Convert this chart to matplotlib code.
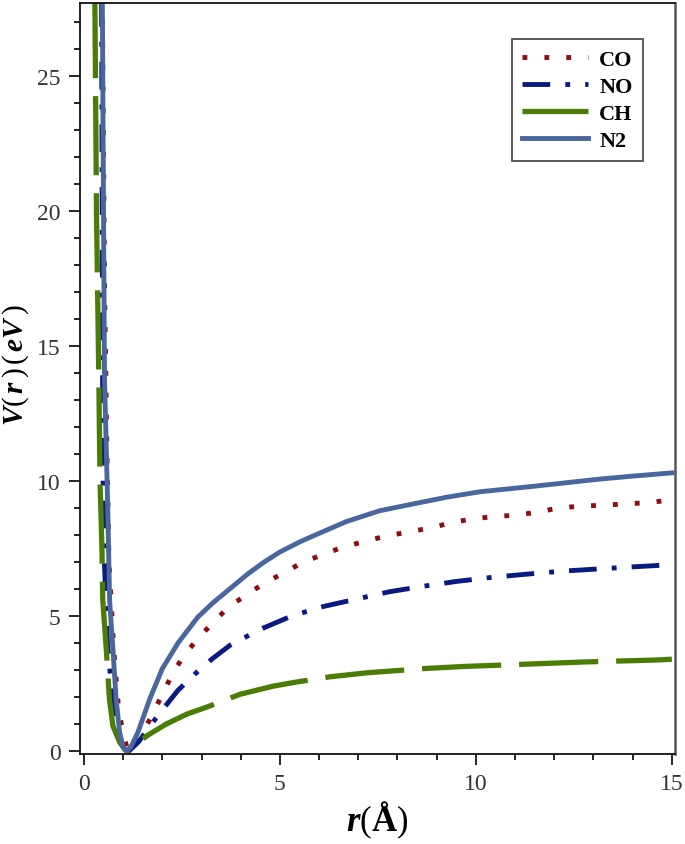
import matplotlib
matplotlib.use("Agg")
import matplotlib.pyplot as plt
from matplotlib.ticker import MultipleLocator

# ---- data ----
co_r = [0.455, 0.47, 0.53, 0.58, 0.64, 0.76, 0.88, 1.00, 1.13, 1.30, 1.45, 1.73, 1.98, 2.24, 2.53, 2.90,
        3.30, 3.67, 4.15, 4.65, 5.10, 5.60, 6.60, 7.70, 8.24, 8.83, 9.34, 9.90, 10.40, 11.05, 11.60,
        12.10, 12.70, 13.20, 13.80, 14.40, 15.00]
co_v = [30.0, 27.7, 16.9, 11.8, 7.0, 3.8, 1.63, 0.6, 0.0, 0.22, 0.56, 1.3, 2.04, 2.8, 3.5, 4.15,
        4.77, 5.3, 5.8, 6.25, 6.6, 7.0, 7.55, 7.96, 8.1, 8.26, 8.44, 8.6, 8.67, 8.74, 8.85,
        9.0, 9.07, 9.1, 9.15, 9.2, 9.3]

no_r = [0.44, 0.45, 0.47, 0.48, 0.51, 0.60, 0.75, 0.90, 1.05, 1.15, 1.40, 1.67, 2.06, 2.40, 2.83,
        3.26, 3.73, 4.23, 4.57, 5.30, 6.10, 6.96, 7.80, 8.65, 9.50, 10.40, 11.30, 12.20, 13.20,
        14.00, 15.00]
no_v = [30.0, 27.7, 18.0, 11.2, 7.5, 4.0, 1.6, 0.5, 0.05, 0.0, 0.35, 0.9, 1.63, 2.25, 2.85,
        3.4, 3.92, 4.3, 4.55, 5.0, 5.35, 5.63, 5.9, 6.1, 6.28, 6.43, 6.55, 6.66, 6.75,
        6.82, 6.9]

ch_r = [0.26, 0.28, 0.32, 0.38, 0.41, 0.46, 0.48, 0.57, 0.65, 0.74, 0.91, 1.05, 1.12, 1.30, 1.60,
        2.10, 2.63, 3.14, 3.98, 4.82, 5.40, 6.28, 7.24, 7.90, 8.75, 9.67, 10.60, 12.80, 14.60, 15.00]
ch_v = [30.0, 27.7, 20.0, 13.8, 10.0, 7.5, 5.6, 3.78, 1.93, 0.93, 0.33, 0.05, 0.0, 0.2, 0.56,
        1.0, 1.37, 1.63, 2.1, 2.4, 2.55, 2.75, 2.9, 2.97, 3.06, 3.13, 3.18, 3.3, 3.37, 3.4]

n2_r = [0.455, 0.47, 0.50, 0.525, 0.56, 0.61, 0.655, 0.70, 0.74, 0.82, 0.91, 1.00, 1.08, 1.20, 1.38,
        1.68, 2.00, 2.40, 2.90, 3.30, 3.80, 4.20, 4.60, 5.00, 5.50, 5.84, 6.70, 7.55, 8.40, 9.26,
        10.10, 11.45, 13.16, 14.00, 15.00]
n2_v = [30.0, 27.7, 20.0, 13.8, 11.8, 8.85, 5.6, 4.6, 3.78, 1.93, 0.7, 0.15, 0.0, 0.15, 0.7,
        1.93, 3.05, 4.0, 4.95, 5.5, 6.1, 6.58, 7.0, 7.37, 7.74, 7.96, 8.5, 8.9, 9.15, 9.4,
        9.6, 9.8, 10.07, 10.18, 10.3]

labels = ["CO", "NO", "CH", "N2"]
x_ticks = [0, 5, 10, 15]
y_ticks = [0, 5, 10, 15, 20, 25]

# ---- style ----
plt.rcParams["font.family"] = ["Liberation Serif", "DejaVu Serif"]
plt.rcParams["mathtext.fontset"] = "custom"
plt.rcParams["mathtext.it"] = "Liberation Serif:italic:bold"
plt.rcParams["mathtext.bf"] = "Liberation Serif:bold"
plt.rcParams["mathtext.rm"] = "Liberation Serif"

fig = plt.figure(figsize=(6.85, 8.45), dpi=100)
ax = fig.add_axes([0.1168, 0.1065, 0.8686, 0.8888])

lw = 3.5
ax.plot(co_r, co_v, color="#8e0d12", lw=lw, linestyle=(0, (1.0, 3.5)),
        dash_capstyle="butt", label=labels[0])
ax.plot(no_r, no_v, color="#0a1a80", lw=lw, linestyle=(0, (5.7, 3.1, 1.0, 3.1)),
        dash_capstyle="butt", label=labels[1])
ax.plot(ch_r, ch_v, color="#4b7d06", lw=3.8, linestyle=(0, (15, 3.4)),
        dash_capstyle="butt", label=labels[2])
ax.plot(n2_r, n2_v, color="#4a669e", lw=lw, linestyle="-", label=labels[3])

ax.set_xlim(-0.10, 15.08)
ax.set_ylim(-0.11, 27.7)
ax.set_xticks(x_ticks)
ax.set_yticks(y_ticks)
ax.xaxis.set_minor_locator(MultipleLocator(1))
ax.yaxis.set_minor_locator(MultipleLocator(1))
ax.tick_params(which="major", direction="out", length=8, width=1.2, labelsize=17,
               labelcolor="#333333", top=False, right=False, pad=6)
ax.tick_params(which="minor", direction="out", length=4.5, width=1.2, top=False, right=False)

for s in ["left", "bottom", "top"]:
    ax.spines[s].set_linewidth(1.3)
    ax.spines[s].set_color("#111111")
ax.spines["right"].set_linewidth(1.8)
ax.spines["right"].set_color("#555555")

ax.set_ylabel(r"$V(\,r\,)\,(\,eV\,)$", fontsize=21)
ax.yaxis.set_label_coords(-0.082, 0.519)
ax.set_xlabel(r"$r(\mathbf{Å})$", fontsize=25, labelpad=3)

leg = ax.legend(loc="upper right", bbox_to_anchor=(0.946, 0.952), borderaxespad=0.0,
                frameon=True, fancybox=False, edgecolor="#222222", handlelength=3.0,
                handletextpad=0.5, borderpad=0.45, labelspacing=0.3,
                prop={"family": "Liberation Serif", "weight": "bold", "size": 16})
leg.get_frame().set_linewidth(1.3)

fig.savefig("out.png", dpi=100)
